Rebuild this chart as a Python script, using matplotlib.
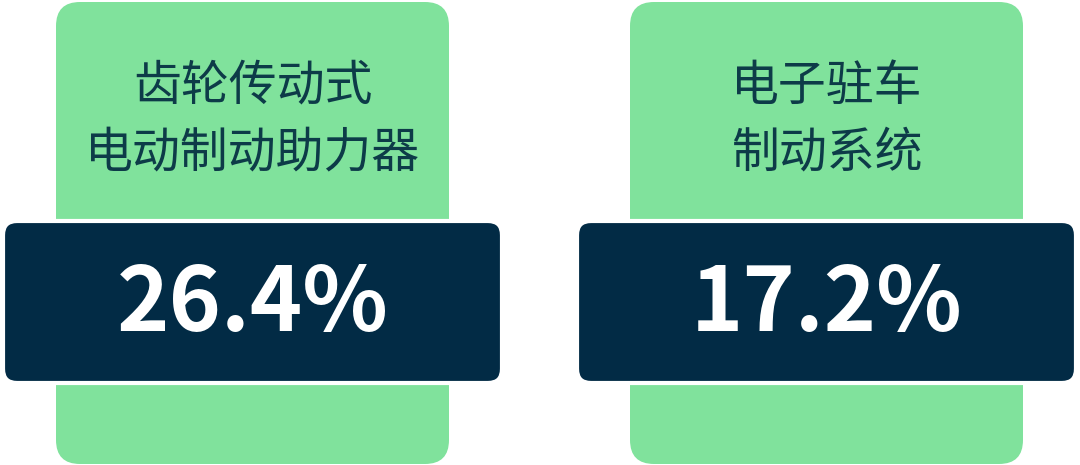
import matplotlib
matplotlib.use("Agg")
import matplotlib.pyplot as plt
from matplotlib.patches import FancyBboxPatch

plt.rcParams['font.family'] = ['Noto Sans CJK SC', 'DejaVu Sans']

# Data
labels = ["齿轮传动式\n电动制动助力器", "电子驻车\n制动系统"]
values = [26.4, 17.2]

green = "#80e29c"
navy = "#022b45"
text_dark = "#0d3b48"

W, H = 1080, 465
fig = plt.figure(figsize=(W / 100, H / 100), dpi=100)
ax = fig.add_axes([0, 0, 1, 1])
ax.set_xlim(0, W)
ax.set_ylim(H, 0)
ax.axis("off")

centers = [252.5, 826.5]
for cx, lab, val in zip(centers, labels, values):
    # green card
    gw = 393
    ax.add_patch(FancyBboxPatch((cx - gw / 2 + 24, 2 + 24), gw - 48, 462 - 48,
                                boxstyle="round,pad=24", fc=green, ec="none"))
    # dark band with white outline
    dw = 499
    ax.add_patch(FancyBboxPatch((cx - dw / 2 + 14, 221 + 14), dw - 28, 162 - 28,
                                boxstyle="round,pad=14", fc=navy, ec="white", lw=3))
    l1, l2 = lab.split("\n")
    ax.text(cx, 86, l1, ha="center", va="center", fontsize=34.5, color=text_dark)
    ax.text(cx, 153, l2, ha="center", va="center", fontsize=34.5, color=text_dark)
    ax.text(cx, 305, f"{val:.1f}%", ha="center", va="center", fontsize=64,
            fontweight="bold", color="white")

fig.savefig("out.png", dpi=100)
